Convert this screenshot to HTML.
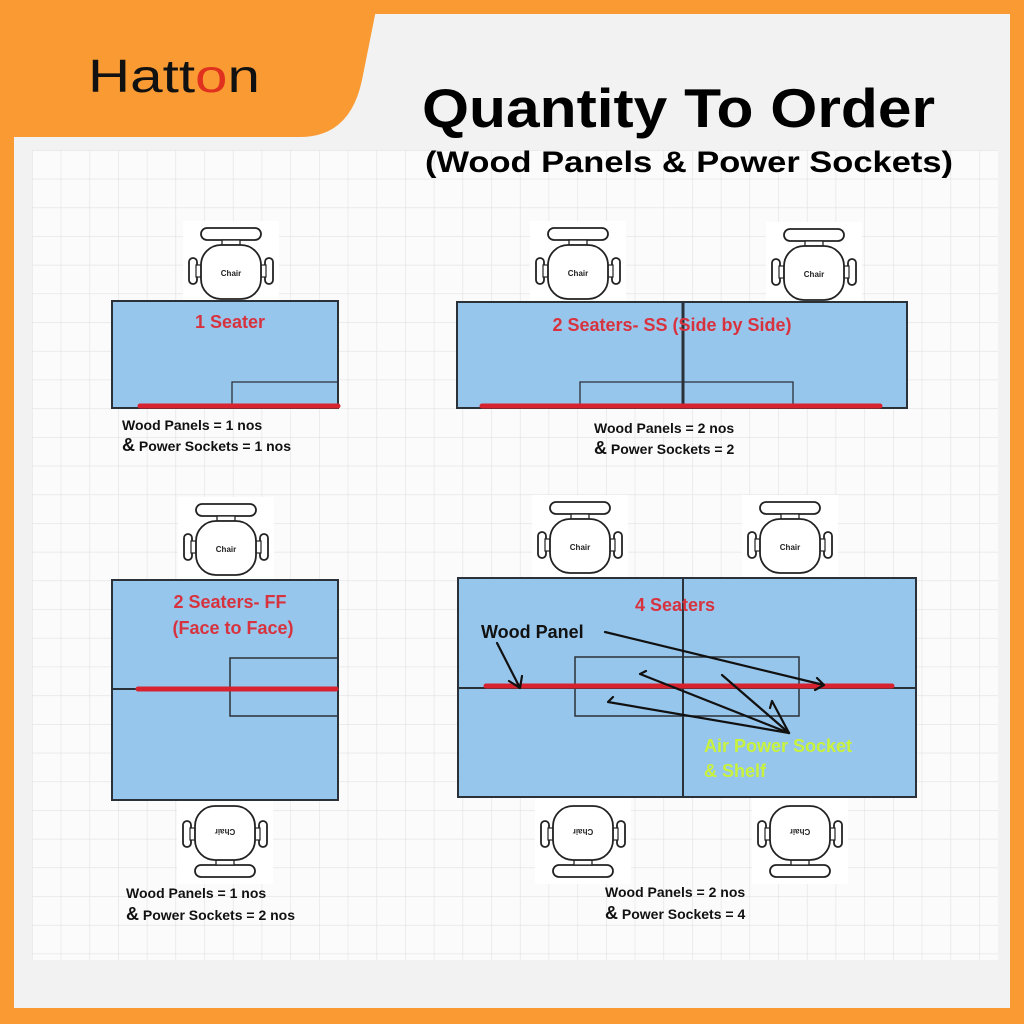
<!DOCTYPE html>
<html><head><meta charset="utf-8"><style>
html,body{margin:0;padding:0;width:1024px;height:1024px;overflow:hidden;background:#f99a33}
svg{display:block}
text{font-family:"Liberation Sans",sans-serif;font-weight:bold}
</style></head><body>
<svg width="1024" height="1024" viewBox="0 0 1024 1024" xmlns="http://www.w3.org/2000/svg">
<defs>
<pattern id="grid" x="32" y="150" width="28.7" height="28.7" patternUnits="userSpaceOnUse">
<rect width="28.7" height="28.7" fill="#fbfbfb"/>
<path d="M0 0H28.7M0 0V28.7" stroke="#e2e2e2" stroke-width="1.2" fill="none"/>
</pattern>
<g id="chairshape">
<rect x="-48" y="-52" width="96" height="86" fill="#fff"/>
<rect x="-30" y="-45" width="60" height="12" rx="6" fill="#fff" stroke="#222" stroke-width="1.8"/>
<rect x="-9" y="-33" width="18" height="5" fill="#fff" stroke="#222" stroke-width="1.3"/>
<rect x="-42" y="-15" width="8" height="26" rx="4" fill="#fff" stroke="#222" stroke-width="1.8"/>
<rect x="34" y="-15" width="8" height="26" rx="4" fill="#fff" stroke="#222" stroke-width="1.8"/>
<rect x="-35" y="-8" width="5" height="12" fill="#fff" stroke="#222" stroke-width="1.2"/>
<rect x="30" y="-8" width="5" height="12" fill="#fff" stroke="#222" stroke-width="1.2"/>
<rect x="-30" y="-28" width="60" height="54" rx="20" fill="#fff" stroke="#222" stroke-width="1.8"/>
</g>
</defs>
<rect x="14" y="14" width="996" height="994" fill="#f2f2f2"/>
<rect x="32" y="150" width="966" height="810" fill="url(#grid)"/>
<path d="M0 0 H378 L362 80 Q350 137 300 137 H0 Z" fill="#f99a33"/>
<text x="88" y="92" font-family="'DejaVu Sans',sans-serif" style="font-weight:normal" font-size="46" fill="#111" textLength="172" lengthAdjust="spacingAndGlyphs">Hatt<tspan fill="#e0301e">o</tspan>n</text>
<text x="422" y="127" font-size="55" fill="#000" textLength="513" lengthAdjust="spacingAndGlyphs">Quantity To Order</text>
<text x="425" y="172" font-size="30" fill="#000" textLength="528" lengthAdjust="spacingAndGlyphs">(Wood Panels &amp; Power Sockets)</text>

<g transform="translate(231,273)"><use href="#chairshape"/><text x="0" y="3" font-size="8" text-anchor="middle" fill="#222">Chair</text></g>
<g transform="translate(578,273)"><use href="#chairshape"/><text x="0" y="3" font-size="8" text-anchor="middle" fill="#222">Chair</text></g>
<g transform="translate(814,274)"><use href="#chairshape"/><text x="0" y="3" font-size="8" text-anchor="middle" fill="#222">Chair</text></g>
<g transform="translate(226,549)"><use href="#chairshape"/><text x="0" y="3" font-size="8" text-anchor="middle" fill="#222">Chair</text></g>
<g transform="translate(580,547)"><use href="#chairshape"/><text x="0" y="3" font-size="8" text-anchor="middle" fill="#222">Chair</text></g>
<g transform="translate(790,547)"><use href="#chairshape"/><text x="0" y="3" font-size="8" text-anchor="middle" fill="#222">Chair</text></g>
<g transform="translate(225,832) rotate(180)"><use href="#chairshape"/><text x="0" y="3" font-size="8" text-anchor="middle" fill="#222">Chair</text></g>
<g transform="translate(583,832) rotate(180)"><use href="#chairshape"/><text x="0" y="3" font-size="8" text-anchor="middle" fill="#222">Chair</text></g>
<g transform="translate(800,832) rotate(180)"><use href="#chairshape"/><text x="0" y="3" font-size="8" text-anchor="middle" fill="#222">Chair</text></g>

<g stroke="#2b3138" fill="none">
<rect x="112" y="301" width="226" height="107" fill="#97c6ec" stroke-width="2"/>
<path d="M232 408V382H338" stroke-width="1.3"/>
<rect x="457" y="302" width="450" height="106" fill="#97c6ec" stroke-width="2"/>
<path d="M683 302V408" stroke-width="3"/>
<path d="M580 406V382H793V406" stroke-width="1.3"/>
<rect x="112" y="580" width="226" height="220" fill="#97c6ec" stroke-width="2"/>
<path d="M112 689H338" stroke-width="2"/>
<path d="M339 658H230V716H338" stroke-width="1.5"/>
<rect x="458" y="578" width="458" height="219" fill="#97c6ec" stroke-width="2"/>
<path d="M683 578V797M458 688H916" stroke-width="2"/>
<rect x="575" y="657" width="224" height="59" stroke-width="1.5"/>
</g>
<g stroke="#d7232f" stroke-width="5" stroke-linecap="round">
<path d="M140 406H338"/>
<path d="M482 406H880"/>
<path d="M138 689H336"/>
<path d="M486 686H892"/>
</g>
<g stroke="#111" stroke-width="2.2" fill="none" stroke-linecap="round">
<path d="M497 643L520 688M520 688L509 681M520 688L522 676"/>
<path d="M605 632L824 685M824 685L817 678M824 685L815 690"/>
<path d="M789 733L640 674M640 674L646 671"/>
<path d="M789 733L722 675"/>
<path d="M789 733L772 701M772 701L770 708"/>
<path d="M789 733L608 702M608 702L613 697"/>
</g>
<g font-size="18" fill="#d7333f">
<text x="230" y="328" text-anchor="middle">1 Seater</text>
<text x="672" y="331" text-anchor="middle">2 Seaters- SS (Side by Side)</text>
<text x="230" y="608" text-anchor="middle">2 Seaters- FF</text>
<text x="233" y="634" text-anchor="middle">(Face to Face)</text>
<text x="675" y="611" text-anchor="middle">4 Seaters</text>
</g>
<text x="481" y="638" font-size="18" fill="#111">Wood Panel</text>
<g font-size="18" fill="#c8f23c">
<text x="704" y="752">Air Power Socket</text>
<text x="704" y="777">&amp; Shelf</text>
</g>
<g font-size="14" fill="#111">
<text x="122" y="430">Wood Panels = 1 nos</text>
<text x="122" y="451"><tspan font-size="18">&amp;</tspan>  Power Sockets = 1 nos</text>
<text x="594" y="433">Wood Panels = 2 nos</text>
<text x="594" y="454"><tspan font-size="18">&amp;</tspan>  Power Sockets = 2</text>
<text x="126" y="898">Wood Panels = 1 nos</text>
<text x="126" y="920"><tspan font-size="18">&amp;</tspan>  Power Sockets = 2 nos</text>
<text x="605" y="897">Wood Panels = 2 nos</text>
<text x="605" y="919"><tspan font-size="18">&amp;</tspan>  Power Sockets = 4</text>
</g>
</svg>
</body></html>
